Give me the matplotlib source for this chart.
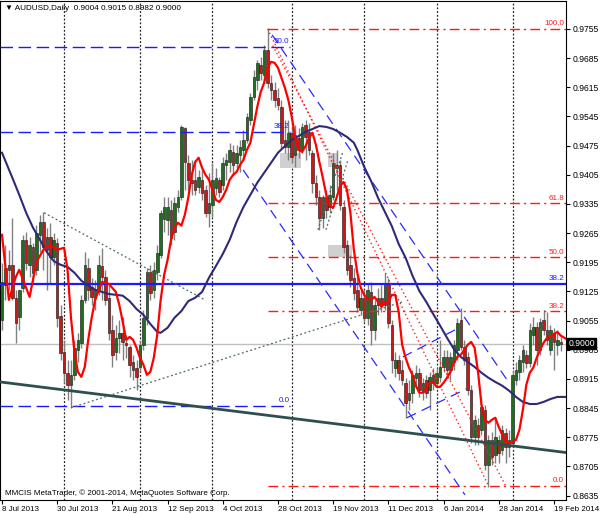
import matplotlib
matplotlib.use("Agg")
import matplotlib.pyplot as plt
import matplotlib.transforms as mtransforms
from matplotlib.patches import Rectangle
import pandas as pd

plt.rcParams['font.family'] = ['Liberation Sans', 'DejaVu Sans']

# ---------------- data ----------------
dates = [d for d in pd.bdate_range('2013-07-08', '2014-02-21')
         if d.strftime('%m-%d') not in ('12-25', '01-01')]

opens = [0.9057,0.9141,0.9177,0.9189,0.9110,0.9064,0.9134,0.9249,0.9189,0.9232,
         0.9177,0.9261,0.9292,0.9225,0.9256,0.9208,0.9242,0.9067,0.8980,0.8930,
         0.8901,0.8925,0.8985,0.9002,0.9105,0.9182,0.9136,0.9110,0.9129,0.9187,
         0.9160,0.9110,0.9033,0.8980,0.9014,0.9026,0.9002,0.8992,0.8956,0.8942,
         0.8944,0.8997,0.9062,0.9172,0.9129,0.9172,0.9213,0.9300,0.9297,0.9321,
         0.9268,0.9328,0.9352,0.9518,0.9434,0.9393,0.9393,0.9376,0.9393,0.9369,
         0.9314,0.9333,0.9374,0.9393,0.9381,0.9429,0.9436,0.9460,0.9434,0.9453,
         0.9465,0.9489,0.9537,0.9592,0.9633,0.9669,0.9645,0.9705,0.9626,0.9609,
         0.9590,0.9568,0.9489,0.9472,0.9506,0.9453,0.9494,0.9465,0.9525,0.9508,
         0.9458,0.9386,0.9352,0.9302,0.9352,0.9328,0.9352,0.9429,0.9429,0.9328,
         0.9237,0.9189,0.9158,0.9129,0.9081,0.9110,0.9062,0.9124,0.9033,0.9093,
         0.9110,0.9093,0.9146,0.9045,0.8942,0.8961,0.8937,0.8906,0.8865,0.8882,
         0.8918,0.8930,0.8884,0.8913,0.8889,0.8925,0.8906,0.8920,0.8944,0.8968,
         0.8937,0.8956,0.8985,0.9057,0.8992,0.8968,0.8889,0.8776,0.8805,0.8793,
         0.8841,0.8709,0.8769,0.8733,0.8769,0.8745,0.8786,0.8752,0.8762,0.8913,
         0.8932,0.8956,0.8973,0.8954,0.9021,0.9040,0.8985,0.9057,0.9033,0.8985,
         0.9026,0.8997,0.9004]
highs = [0.9193,0.9237,0.9225,0.9302,0.9129,0.9129,0.9261,0.9268,0.9256,0.9242,
         0.9285,0.9309,0.9316,0.9278,0.9290,0.9266,0.9254,0.9093,0.9009,0.8961,
         0.8961,0.9009,0.9026,0.9117,0.9220,0.9206,0.9158,0.9153,0.9213,0.9230,
         0.9177,0.9141,0.9069,0.9045,0.9057,0.9064,0.9021,0.8997,0.8973,0.8961,
         0.9009,0.9081,0.9182,0.9189,0.9196,0.9237,0.9321,0.9352,0.9352,0.9345,
         0.9352,0.9369,0.9525,0.9520,0.9453,0.9441,0.9441,0.9417,0.9417,0.9381,
         0.9410,0.9434,0.9422,0.9400,0.9448,0.9458,0.9482,0.9477,0.9477,0.9489,
         0.9513,0.9554,0.9602,0.9657,0.9681,0.9688,0.9717,0.9758,0.9645,0.9628,
         0.9614,0.9585,0.9537,0.9537,0.9518,0.9525,0.9518,0.9530,0.9537,0.9530,
         0.9465,0.9405,0.9369,0.9357,0.9369,0.9381,0.9458,0.9465,0.9441,0.9345,
         0.9249,0.9213,0.9182,0.9165,0.9129,0.9129,0.9146,0.9148,0.9105,0.9134,
         0.9141,0.9170,0.9158,0.9057,0.8980,0.8973,0.8961,0.8918,0.8913,0.8937,
         0.8949,0.8942,0.8918,0.8925,0.8932,0.8942,0.8942,0.9009,0.8985,0.8985,
         0.8980,0.9009,0.9062,0.9086,0.9009,0.8980,0.8901,0.8829,0.8822,0.8872,
         0.8853,0.8781,0.8788,0.8824,0.8781,0.8805,0.8798,0.8793,0.8937,0.8956,
         0.8973,0.8997,0.8985,0.9050,0.9064,0.9052,0.9062,0.9081,0.9076,0.9045,
         0.9038,0.9033,0.9015]
lows = [0.9033,0.9105,0.9129,0.9105,0.9002,0.9033,0.9124,0.9177,0.9160,0.9148,
        0.9165,0.9220,0.9177,0.9129,0.9146,0.9189,0.9040,0.8961,0.8906,0.8865,
        0.8846,0.8913,0.8956,0.8990,0.9098,0.9105,0.9093,0.9081,0.9117,0.9105,
        0.9093,0.9009,0.8944,0.8961,0.8978,0.8961,0.8966,0.8920,0.8913,0.8889,
        0.8932,0.8985,0.9045,0.9105,0.9110,0.9153,0.9206,0.9268,0.9261,0.9237,
        0.9249,0.9316,0.9345,0.9369,0.9369,0.9357,0.9357,0.9362,0.9345,0.9304,
        0.9280,0.9304,0.9357,0.9352,0.9369,0.9393,0.9412,0.9405,0.9422,0.9412,
        0.9441,0.9482,0.9525,0.9585,0.9609,0.9633,0.9628,0.9614,0.9585,0.9568,
        0.9561,0.9470,0.9458,0.9441,0.9434,0.9424,0.9446,0.9458,0.9441,0.9453,
        0.9362,0.9333,0.9273,0.9278,0.9302,0.9314,0.9345,0.9369,0.9321,0.9218,
        0.9165,0.9136,0.9105,0.9076,0.9069,0.9052,0.9045,0.8997,0.9009,0.9069,
        0.9076,0.9081,0.9038,0.8930,0.8920,0.8913,0.8901,0.8822,0.8841,0.8858,
        0.8896,0.8872,0.8865,0.8870,0.8841,0.8889,0.8894,0.8908,0.8932,0.8925,
        0.8913,0.8937,0.8961,0.8985,0.8949,0.8877,0.8762,0.8757,0.8757,0.8781,
        0.8697,0.8656,0.8709,0.8714,0.8714,0.8733,0.8714,0.8728,0.8752,0.8901,
        0.8913,0.8932,0.8942,0.8944,0.8997,0.8949,0.8973,0.9021,0.8997,0.8973,
        0.8937,0.8973,0.8982]
closes = [0.9148,0.9182,0.9189,0.9110,0.9050,0.9129,0.9249,0.9193,0.9237,0.9170,
          0.9266,0.9292,0.9232,0.9256,0.9208,0.9249,0.9062,0.8978,0.8930,0.8901,
          0.8925,0.8990,0.9009,0.9105,0.9189,0.9129,0.9112,0.9129,0.9189,0.9160,
          0.9105,0.9026,0.8973,0.9014,0.9026,0.9004,0.8997,0.8949,0.8937,0.8920,
          0.8997,0.9062,0.9172,0.9122,0.9177,0.9218,0.9314,0.9328,0.9328,0.9254,
          0.9338,0.9352,0.9520,0.9436,0.9393,0.9386,0.9369,0.9400,0.9362,0.9314,
          0.9338,0.9393,0.9398,0.9364,0.9434,0.9441,0.9465,0.9429,0.9458,0.9472,
          0.9489,0.9544,0.9592,0.9640,0.9674,0.9650,0.9705,0.9626,0.9609,0.9585,
          0.9573,0.9482,0.9472,0.9506,0.9448,0.9501,0.9465,0.9520,0.9496,0.9465,
          0.9386,0.9352,0.9302,0.9352,0.9321,0.9357,0.9434,0.9422,0.9333,0.9232,
          0.9177,0.9153,0.9122,0.9088,0.9110,0.9062,0.9129,0.9033,0.9093,0.9110,
          0.9093,0.9146,0.9050,0.8961,0.8961,0.8930,0.8913,0.8858,0.8882,0.8925,
          0.8930,0.8889,0.8906,0.8882,0.8920,0.8906,0.8930,0.8944,0.8968,0.8937,
          0.8968,0.8997,0.9050,0.8992,0.8961,0.8889,0.8776,0.8817,0.8776,0.8848,
          0.8709,0.8769,0.8728,0.8776,0.8738,0.8793,0.8752,0.8769,0.8925,0.8937,
          0.8961,0.8985,0.8954,0.9033,0.9040,0.8985,0.9052,0.9033,0.9009,0.9033,
          0.9004,0.9009,0.9000]

# fast moving average (red), read at bar positions
red_idx = [0,2,4,5,8,10,12,14,16,18,19,20,21,22,23,24,25,26,27,29,31,33,34,35,36,37,38,39,
           40,41,42,43,44,45,46,47,48,49,50,51,52,53,54,55,56,57,58,59,60,61,62,63,64,65,
           66,67,68,69,70,71,72,73,74,75,76,77,78,79,80,81,82,83,84,85,86,87,88,89,90,91,
           92,93,94,95,96,97,98,99,100,101,102,103,104,105,106,107,108,109,110,111,112,113,
           114,115,116,117,118,119,120,121,122,123,124,125,126,127,128,129,130,131,132,133,
           134,135,136,137,138,139,140,141,142,143,144,145,146,147,148,149,150,151,152,153,
           154,155,156,157,158,159,160,161,162,164]
red_ma = [0.9261,0.9105,0.9160,0.9177,0.9112,0.9196,0.9225,0.9237,0.9225,0.9230,0.9177,0.9062,
          0.8980,0.8932,0.8920,0.8944,0.9009,0.9062,0.9105,0.9148,0.9143,0.9124,0.9093,0.9052,
          0.9009,0.9016,0.9009,0.8990,0.8966,0.8949,0.8925,0.8932,0.8966,0.9021,0.9105,0.9165,
          0.9201,0.9249,0.9278,0.9290,0.9283,0.9309,0.9350,0.9405,0.9436,0.9446,0.9422,0.9405,
          0.9393,0.9369,0.9345,0.9340,0.9352,0.9369,0.9393,0.9405,0.9412,0.9429,0.9441,0.9465,
          0.9482,0.9525,0.9568,0.9604,0.9626,0.9662,0.9676,0.9674,0.9662,0.9638,0.9614,0.9585,
          0.9544,0.9494,0.9465,0.9460,0.9474,0.9494,0.9506,0.9477,0.9436,0.9398,0.9357,0.9330,
          0.9326,0.9350,0.9378,0.9388,0.9369,0.9314,0.9225,0.9170,0.9134,0.9117,0.9107,0.9105,
          0.9112,0.9100,0.9088,0.9098,0.9100,0.9117,0.9117,0.9076,0.8997,0.8966,0.8942,0.8925,
          0.8898,0.8882,0.8882,0.8894,0.8906,0.8908,0.8896,0.8896,0.8906,0.8918,0.8932,0.8954,
          0.8968,0.8973,0.8985,0.8997,0.9004,0.8990,0.8932,0.8853,0.8817,0.8810,0.8817,0.8822,
          0.8800,0.8781,0.8764,0.8762,0.8764,0.8769,0.8793,0.8841,0.8901,0.8930,0.8942,0.8966,
          0.8985,0.9002,0.9014,0.9016,0.9023,0.9028,0.9019,0.9009]

# slow moving average (navy)
navy_idx = [0,3,5,7,9,11,13,15,17,19,21,23,25,27,29,31,33,35,37,39,41,43,45,46,48,50,52,54,
            56,58,60,62,64,66,68,70,72,74,76,78,80,82,84,86,88,90,92,94,96,98,100,102,103,
            105,107,109,111,113,115,117,119,121,123,125,127,129,131,133,135,137,139,141,143,
            145,147,149,151,153,155,157,159,161,162,164]
navy_ma = [0.9458,0.9398,0.9357,0.9314,0.9278,0.9249,0.9220,0.9198,0.9189,0.9184,0.9170,0.9151,
           0.9139,0.9129,0.9124,0.9119,0.9117,0.9115,0.9102,0.9083,0.9069,0.9047,0.9028,0.9026,
           0.9038,0.9062,0.9078,0.9102,0.9110,0.9124,0.9158,0.9186,0.9215,0.9249,0.9292,0.9328,
           0.9357,0.9386,0.9410,0.9434,0.9458,0.9474,0.9489,0.9498,0.9508,0.9515,0.9522,0.9520,
           0.9515,0.9506,0.9496,0.9482,0.9465,0.9424,0.9390,0.9350,0.9316,0.9282,0.9239,0.9206,
           0.9163,0.9126,0.9100,0.9071,0.9043,0.9014,0.8987,0.8968,0.8956,0.8944,0.8930,0.8918,
           0.8908,0.8899,0.8887,0.8872,0.8860,0.8855,0.8855,0.8860,0.8867,0.8872,0.8872,0.8872]

# chart objects, (bar, price) anchors
red_fib_levels = [1.000, 0.618, 0.500, 0.382, 0.000]
red_fib_high, red_fib_low = 0.9755, 0.8659
red_fib_start = 77
blue_fib_levels = [0.500, 0.382, 0.000]
blue_fib_prices = [0.9712, 0.9508, 0.8851]
blue_fib_end = 83.5
blue_hline = 0.9144
bid_price = 0.9000
teal_trend = [(-0.6, 0.8908), (164.0, 0.8738)]
gray_dotted = [[(12.2, 0.9314), (58.8, 0.9105)],
               [(20.0, 0.8846), (116.0, 0.9100)],
               [(91.6, 0.9273), (98.8, 0.9460)],
               [(93.9, 0.9273), (100.3, 0.9441)]]
red_dotted = [[(77.0, 0.9755), (141.0, 0.8659)],
              [(78.5, 0.9715), (146.0, 0.8659)]]
blue_channel = [[(78.3, 0.9741), (146.4, 0.8913)],
                [(69.9, 0.9417), (134.2, 0.8637)],
                [(116.2, 0.8968), (133.0, 0.9040)],
                [(117.4, 0.8822), (134.5, 0.8891)]]
gray_boxes = [(80.6, 86.7, 0.9422, 0.9458),
              (94.5, 97.4, 0.9424, 0.9458),
              (94.5, 101.4, 0.9208, 0.9237)]
month_starts = [18, 40, 61, 84, 105, 126, 148]
label_idx = list(range(0, 161, 16))
price_ticks = [round(0.8635 + 0.007 * k, 4) for k in range(17)]

# ---------------- drawing ----------------
fig = plt.figure(figsize=(6.0, 5.14), dpi=100)
ax = fig.add_axes([0.0, 14 / 514, 566 / 600, 499 / 514])
ax.set_xlim(-0.58, 163.5)
ax.set_ylim(0.86246, 0.98222)

for m in month_starts:
    ax.axvline(m, color='#222222', lw=0.9, ls=(0, (1.5, 1.5)), zorder=0.5)

for (x0, x1, p0, p1) in gray_boxes:
    ax.add_patch(Rectangle((x0, p0), x1 - x0, p1 - p0, facecolor='#d0d0d0',
                           edgecolor='none', zorder=1))

ax.axhline(bid_price, color='#c0c0c0', lw=1.0, zorder=1.5)

bull_c, bear_c = '#1f6e1f', '#c41a1a'
for i, (o, h, l, c) in enumerate(zip(opens, highs, lows, closes)):
    ax.vlines(i, l, h, color='#808080', lw=1.0, zorder=2)
    bot = min(o, c)
    ht = max(abs(c - o), 0.00012)
    col = bull_c if c > o else (bear_c if c < o else '#808080')
    ax.add_patch(Rectangle((i - 0.37, bot), 0.74, ht, facecolor=col,
                           edgecolor='#151515', lw=0.4, zorder=3))

# red fibonacci
rng = red_fib_high - red_fib_low
for lv in red_fib_levels:
    p = red_fib_low + lv * rng
    ax.plot([red_fib_start, 163.5], [p, p], color='#ff1a1a', lw=1.0,
            ls=(0, (7, 3, 1.5, 3)), zorder=4)
    ax.text(162.9, p + 0.0004, f'{lv*100:.1f}', color='#ff1a1a', fontsize=5.8,
            ha='right', va='bottom', zorder=6)

# blue fibonacci
for lv, p in zip(blue_fib_levels, blue_fib_prices):
    ax.plot([-0.6, blue_fib_end], [p, p], color='#1a1aff', lw=1.0,
            ls=(0, (9, 4)), zorder=4)
    ax.text(blue_fib_end - 0.2, p + 0.0004, f'{lv*100:.1f}', color='#1a1aff',
            fontsize=5.8, ha='right', va='bottom', zorder=6)

ax.axhline(blue_hline, color='#1a1aff', lw=1.6, zorder=4)
ax.text(162.9, blue_hline + 0.0004, '38.2', color='#1a1aff', fontsize=5.8,
        ha='right', va='bottom', zorder=6)

for seg in blue_channel:
    (x0, y0), (x1, y1) = seg
    ax.plot([x0, x1], [y0, y1], color='#2a2aff', lw=0.9, ls=(0, (8, 5)), zorder=4)
for seg in red_dotted:
    (x0, y0), (x1, y1) = seg
    ax.plot([x0, x1], [y0, y1], color='#ff2020', lw=1.0, ls=(0, (1, 2)), zorder=4)
for seg in gray_dotted:
    (x0, y0), (x1, y1) = seg
    ax.plot([x0, x1], [y0, y1], color='#4a6a6a', lw=0.9, ls=(0, (1.5, 2)), zorder=4)

(tx0, ty0), (tx1, ty1) = teal_trend
ax.plot([tx0, tx1], [ty0, ty1], color='#2f4f4f', lw=2.0, zorder=5)

ax.plot(navy_idx, navy_ma, color='#2e2a78', lw=1.5, zorder=5)
ax.plot(red_idx, red_ma, color='#ff0000', lw=1.6, zorder=5)

# axes styling
for s in ax.spines.values():
    s.set_color('#000000')
    s.set_linewidth(0.8)
ax.yaxis.tick_right()
ax.set_yticks(price_ticks)
ax.set_yticklabels([f'{p:.4f}' for p in price_ticks])
ax.tick_params(axis='y', direction='out', length=3, width=0.8, pad=2, labelsize=6.2,
               colors='#000000')
ax.set_xticks(label_idx)
ax.set_xticklabels([f'{dates[i].day} {dates[i].strftime("%b %Y")}' for i in label_idx],
                   ha='left')
ax.tick_params(axis='x', direction='out', length=3, width=0.8, pad=1.5, labelsize=5.8)

trans = mtransforms.blended_transform_factory(ax.transAxes, ax.transData)
ax.text(1.004, bid_price, f'{closes[-1]:.4f}', transform=trans, color='white',
        fontsize=6.2, ha='left', va='center', zorder=10,
        bbox=dict(boxstyle='square,pad=0.15', facecolor='black', edgecolor='black'),
        clip_on=False)

fig.text(5 / 600, 1 - 9 / 514,
         '\u25bc AUDUSD,Daily  ' + ' '.join(f'{v:.4f}' for v in
                                            (opens[-1], highs[-1], lows[-1], closes[-1])),
         fontsize=5.9, va='center', ha='left')
fig.text(5 / 600, 1 - 493 / 514,
         'MMCIS MetaTrader, \u00a9 2001-2014, MetaQuotes Software Corp.',
         fontsize=5.8, va='center', ha='left')

fig.savefig('out.png', dpi=100, facecolor='white')
